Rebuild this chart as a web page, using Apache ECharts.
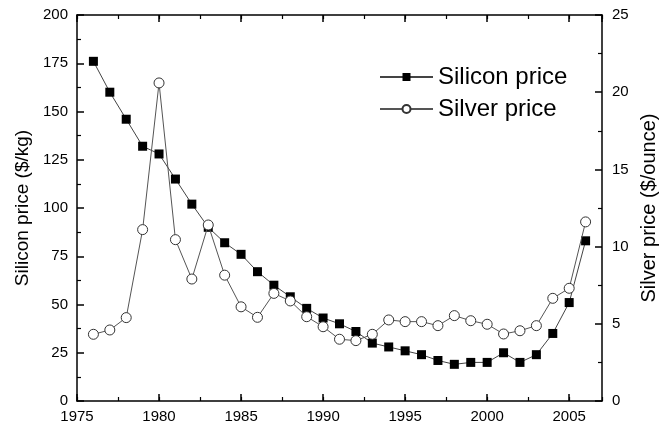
<!DOCTYPE html>
<html>
<head>
<meta charset="utf-8">
<script src="https://cdn.jsdelivr.net/npm/echarts@6/dist/echarts.min.js"></script>
<style>html,body{margin:0;padding:0;background:#fff;}#c{width:668px;height:429px;}</style>
</head>
<body>
<div id="c"></div>
<script>
const years = [1976,1977,1978,1979,1980,1981,1982,1983,1984,1985,1986,1987,1988,1989,1990,1991,1992,1993,1994,1995,1996,1997,1998,1999,2000,2001,2002,2003,2004,2005,2006];
const siliconPrice = [176,160,146,132,128,115,102,90,82,76,67,60,54,48,43,40,36,30,28,26,24,21,19,20,20,25,20,24,35,51,83];
const silverPrice = [4.32,4.6,5.4,11.1,20.6,10.45,7.9,11.4,8.15,6.1,5.42,6.97,6.48,5.46,4.81,4.0,3.91,4.32,5.25,5.14,5.14,4.88,5.53,5.2,4.97,4.34,4.55,4.88,6.65,7.3,11.6];
const leftTicks = [0,25,50,75,100,125,150,175,200];
const rightTicks = [0,5,10,15,20,25];
const xTicks = [1975,1980,1985,1990,1995,2000,2005];

const font = 'Liberation Sans, Arial, sans-serif';
const axisLineStyle = {color:'#000', width:1.5};

const chart = echarts.init(document.getElementById('c'), null, {renderer:'canvas'});
const xBase = {type:'value', min:1975, max:2007, splitLine:{show:false}};
chart.setOption({
  animation:false,
  backgroundColor:'#fff',
  grid:{left:77, right:66, top:15, bottom:28, containLabel:false},
  legend:{
    orient:'vertical', left:374, top:60, itemWidth:53, itemHeight:10, itemGap:8,
    textStyle:{fontFamily:font, fontSize:24, color:'#000', padding:[0,0,0,0]},
    data:['Silicon price','Silver price']
  },
  xAxis:[
    Object.assign({}, xBase, {position:'bottom', interval:5,
      axisLine:{show:true, lineStyle:axisLineStyle},
      axisTick:{show:true, inside:true, length:7, lineStyle:{color:'#000', width:1.5}},
      axisLabel:{fontFamily:font, fontSize:15, color:'#000', margin:8, showMaxLabel:false,
        formatter:v => xTicks.includes(v) ? String(v) : ''}}),
    Object.assign({}, xBase, {position:'bottom', interval:2.5,
      axisLine:{show:false},
      axisTick:{show:true, inside:true, length:4, lineStyle:{color:'#000', width:1.2}},
      axisLabel:{show:false}}),
    Object.assign({}, xBase, {position:'top', interval:5,
      axisLine:{show:true, lineStyle:axisLineStyle},
      axisTick:{show:true, inside:true, length:7, lineStyle:{color:'#000', width:1.5}},
      axisLabel:{show:false}}),
    Object.assign({}, xBase, {position:'top', interval:2.5,
      axisLine:{show:false},
      axisTick:{show:true, inside:true, length:4, lineStyle:{color:'#000', width:1.2}},
      axisLabel:{show:false}})
  ],
  yAxis:[
    {type:'value', position:'left', min:0, max:200, interval:25,
      name:'Silicon price ($/kg)', nameLocation:'middle', nameGap:44,
      nameTextStyle:{fontFamily:font, fontSize:19, color:'#000'},
      splitLine:{show:false},
      axisLine:{show:true, lineStyle:axisLineStyle},
      axisTick:{show:true, inside:true, length:7, lineStyle:{color:'#000', width:1.5}},
      minorTick:{show:true, splitNumber:2, length:4, lineStyle:{color:'#000', width:1.2}},
      axisLabel:{fontFamily:font, fontSize:15, color:'#000', margin:9,
        formatter:v => leftTicks.includes(v) ? String(v) : ''}},
    {type:'value', position:'right', min:0, max:25, interval:5,
      name:'Silver price ($/ounce)', nameLocation:'middle', nameGap:36, nameRotate:90,
      nameTextStyle:{fontFamily:font, fontSize:20, color:'#000'},
      splitLine:{show:false},
      axisLine:{show:true, lineStyle:axisLineStyle},
      axisTick:{show:true, inside:true, length:7, lineStyle:{color:'#000', width:1.5}},
      minorTick:{show:true, splitNumber:2, length:4, lineStyle:{color:'#000', width:1.2}},
      axisLabel:{fontFamily:font, fontSize:15, color:'#000', margin:10,
        formatter:v => rightTicks.includes(v) ? String(v) : ''}}
  ],
  series:[
    {name:'Silicon price', type:'line', xAxisIndex:0, yAxisIndex:0,
      data: years.map((y,i)=>[y, siliconPrice[i]]),
      symbol:'rect', symbolSize:9, showAllSymbol:true,
      lineStyle:{color:'#444', width:1},
      itemStyle:{color:'#000', borderColor:'#000', borderWidth:0}, z:3},
    {name:'Silver price', type:'line', xAxisIndex:0, yAxisIndex:1,
      data: years.map((y,i)=>[y, silverPrice[i]]),
      symbol:'circle', symbolSize:10, showAllSymbol:true,
      lineStyle:{color:'#555', width:1},
      itemStyle:{color:'#fff', borderColor:'#333', borderWidth:1}, z:4}
  ]
});
</script>
</body>
</html>
